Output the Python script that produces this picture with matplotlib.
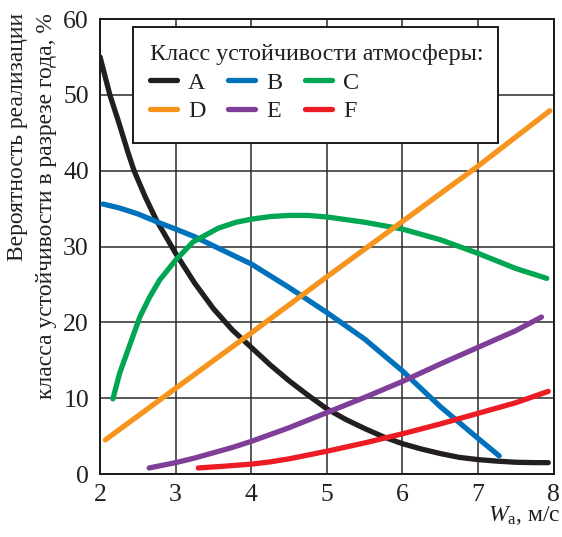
import matplotlib
matplotlib.use("Agg")
import matplotlib.pyplot as plt
from matplotlib.patches import Rectangle

plt.rcParams['font.family'] = ['Liberation Serif', 'DejaVu Serif']
plt.rcParams['mathtext.fontset'] = 'custom'
plt.rcParams['mathtext.rm'] = 'Liberation Serif'
plt.rcParams['mathtext.it'] = 'Liberation Serif:italic'

# ---- data ----
a_x = [2.0, 2.07, 2.13, 2.25, 2.37, 2.45, 2.6, 2.75, 3.0, 3.25, 3.5, 3.75, 4.0, 4.25, 4.5, 4.75,
       5.0, 5.25, 5.5, 5.75, 6.0, 6.25, 6.5, 6.75, 7.0, 7.25, 7.5, 7.75, 7.93]
a_y = [55.0, 52.3, 50.0, 46.3, 42.4, 40.0, 36.5, 33.4, 29.1, 25.2, 21.8, 19.0, 16.7, 14.4, 12.3, 10.4,
       8.6, 7.2, 6.0, 4.9, 4.0, 3.3, 2.7, 2.2, 1.9, 1.7, 1.55, 1.5, 1.5]

b_x = [2.04, 2.25, 2.5, 2.79, 3.0, 3.25, 3.56, 4.0, 4.5, 5.0, 5.5, 6.0, 6.5, 7.0, 7.28]
b_y = [35.6, 35.1, 34.3, 33.1, 32.3, 31.3, 29.8, 27.7, 24.6, 21.3, 17.8, 13.6, 8.9, 4.7, 2.4]

c_x = [2.17, 2.26, 2.4, 2.53, 2.66, 2.79, 3.0, 3.23, 3.56, 3.8, 4.0, 4.25, 4.5, 4.75, 5.0, 5.5,
       6.0, 6.5, 7.0, 7.5, 7.91]
c_y = [9.9, 13.3, 17.2, 20.8, 23.4, 25.6, 28.2, 30.6, 32.4, 33.2, 33.6, 33.95, 34.1, 34.1, 33.9, 33.2,
       32.3, 30.9, 29.1, 27.1, 25.8]

d_x = [2.07, 3.0, 4.0, 5.0, 6.0, 7.0, 7.95]
d_y = [4.5, 11.3, 18.6, 26.0, 33.3, 40.6, 47.9]

e_x = [2.65, 2.8, 3.0, 3.25, 3.5, 3.75, 4.0, 4.5, 5.0, 5.5, 6.0, 6.5, 7.0, 7.5, 7.84]
e_y = [0.8, 1.1, 1.5, 2.1, 2.8, 3.5, 4.3, 6.1, 8.1, 10.1, 12.2, 14.5, 16.7, 18.9, 20.7]

f_x = [3.3, 3.6, 4.0, 4.25, 4.5, 4.75, 5.0, 5.5, 6.0, 6.5, 7.0, 7.5, 7.93]
f_y = [0.8, 1.0, 1.3, 1.6, 2.0, 2.5, 3.0, 4.1, 5.3, 6.6, 8.0, 9.4, 10.9]

labels = ['A', 'B', 'C', 'D', 'E', 'F']
colors = ['#231f20', '#0072bc', '#00a651', '#f7941d', '#7f3f98', '#ed1c24']

x_ticks = [2, 3, 4, 5, 6, 7, 8]
y_ticks = [0, 10, 20, 30, 40, 50, 60]

legend_title = 'Класс устойчивости атмосферы:'
ylabel_1 = 'Вероятность реализации'
ylabel_2 = 'класса устойчивости в разрезе года, %'

# ---- figure ----
fig = plt.figure(figsize=(5.62, 5.37), dpi=100)
ax = fig.add_axes([0.178, 0.1173, 0.807, 0.8473])

series = [(a_x, a_y), (b_x, b_y), (c_x, c_y), (d_x, d_y), (e_x, e_y), (f_x, f_y)]
for (xs, ys), lab, col in zip(series, labels, colors):
    ax.plot(xs, ys, color=col, lw=3.8, solid_capstyle='round',
            solid_joinstyle='round', label=lab, zorder=3)

ax.set_xlim(2, 8)
ax.set_ylim(0, 60)
ax.set_xticks(x_ticks)
ax.set_yticks(y_ticks)
ax.grid(True, color='#2b2b2b', lw=1.1, zorder=0)
ax.set_axisbelow(True)
for s in ax.spines.values():
    s.set_linewidth(1.4)
    s.set_color('#1a1a1a')
ax.tick_params(axis='both', length=0, labelsize=18.5, colors='#231f20')
ax.tick_params(axis='x', pad=7)
ax.tick_params(axis='y', pad=8)

# legend frame
ax.add_patch(Rectangle((0.0728, 0.7275), 0.804, 0.2545, transform=ax.transAxes,
                       facecolor='white', edgecolor='#1a1a1a', lw=1.4, zorder=4))

# legend: rows A B C / D E F
order = [0, 3, 1, 4, 2, 5]
handles, labs = ax.get_legend_handles_labels()
leg = ax.legend([handles[i] for i in order], [labs[i] for i in order],
                ncol=3, title=legend_title, loc='upper left',
                bbox_to_anchor=(0.110, 0.944), fontsize=17.4, title_fontsize=17.4,
                frameon=False, borderpad=0, handlelength=1.12,
                handletextpad=0.46, columnspacing=0.93, labelspacing=0.27,
                borderaxespad=0)
leg._legend_box.align = 'left'
leg.set_zorder(5)
for t in leg.get_texts() + [leg.get_title()]:
    t.set_color('#231f20')
for h in leg.legend_handles:
    h.set_solid_capstyle('round')

# y-label (two lines, aligned at the top)
fig.text(0.031, 0.976, ylabel_1, rotation=90, ha='center', va='top',
         fontsize=17, color='#231f20')
fig.text(0.083, 0.976, ylabel_2, rotation=90, ha='center', va='top',
         fontsize=17, color='#231f20')

# x-label
fig.text(0.997, 0.030, r'$W_{\mathrm{а}}$, м/с', ha='right', va='baseline',
         fontsize=17, color='#231f20')

fig.savefig('out.png', dpi=100)
